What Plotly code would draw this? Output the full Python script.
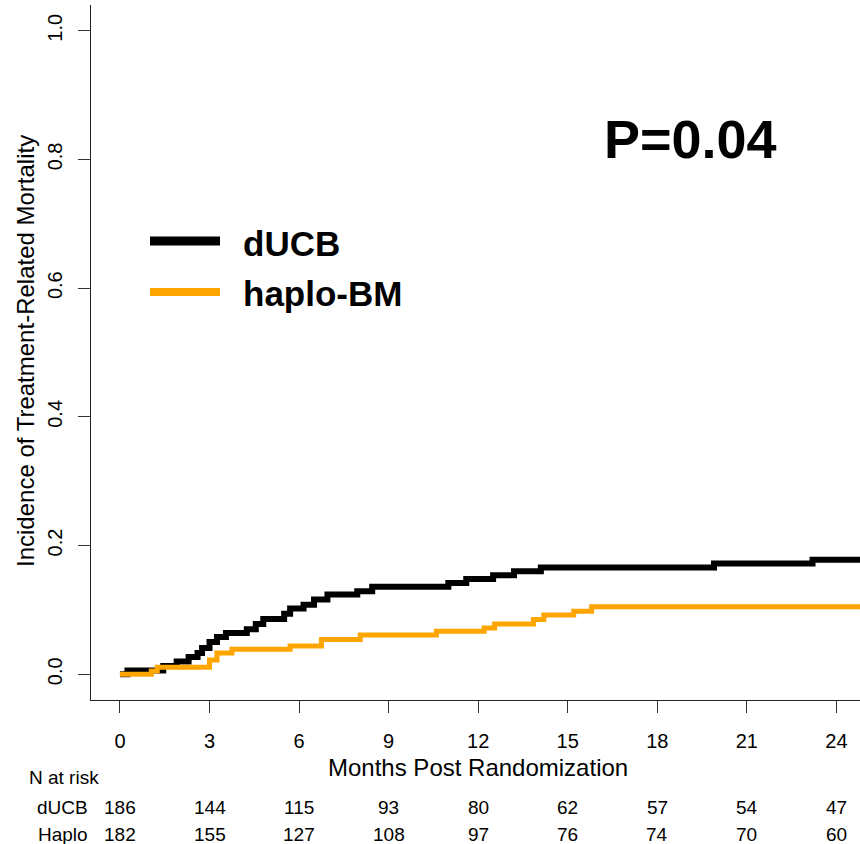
import plotly.graph_objects as go

# Cumulative incidence of treatment-related mortality (step functions)
ducb_months = [0, 0.25, 1.45, 1.9, 2.3, 2.6, 2.75, 3.0, 3.25, 3.55, 4.25, 4.55, 4.8,
               5.5, 5.7, 6.15, 6.5, 6.95, 7.95, 8.45, 11.0, 11.6, 12.5, 13.2, 14.1,
               19.9, 23.2, 25.0]
ducb_cif = [0, 0.006, 0.013, 0.020, 0.027, 0.033, 0.041, 0.050, 0.058, 0.064, 0.070,
            0.078, 0.086, 0.094, 0.102, 0.108, 0.116, 0.124, 0.129, 0.136, 0.142,
            0.148, 0.154, 0.160, 0.166, 0.172, 0.178, 0.178]

haplo_months = [0, 1.05, 1.25, 3.0, 3.25, 3.75, 5.7, 6.75, 8.05, 10.6, 12.2, 12.55,
                13.85, 14.2, 15.2, 15.8, 25.0]
haplo_cif = [0, 0.005, 0.011, 0.022, 0.033, 0.039, 0.044, 0.054, 0.061, 0.067, 0.072,
             0.078, 0.085, 0.092, 0.098, 0.105, 0.105]

tick_months = [0, 3, 6, 9, 12, 15, 18, 21, 24]
y_ticks = [0.0, 0.2, 0.4, 0.6, 0.8, 1.0]
ducb_at_risk = [186, 144, 115, 93, 80, 62, 57, 54, 47]
haplo_at_risk = [182, 155, 127, 108, 97, 76, 74, 70, 60]

FONT = "Liberation Sans, Arial, sans-serif"
W, H = 860, 844
ML, MR, MT, MB = 91, 0, 5, 144
PW, PH = W - ML - MR, H - MT - MB


def px(x):
    return (x - ML) / PW


def py(y):
    return (H - MB - y) / PH


fig = go.Figure()
fig.add_trace(go.Scatter(x=ducb_months, y=ducb_cif, mode="lines", line_shape="hv",
                         line=dict(color="black", width=6), showlegend=False))
fig.add_trace(go.Scatter(x=haplo_months, y=haplo_cif, mode="lines", line_shape="hv",
                         line=dict(color="#FFA500", width=5), showlegend=False))

ann = []
# axis titles
ann.append(dict(text="Months Post Randomization", xref="paper", yref="paper",
                x=px(478), y=py(767), xanchor="center", yanchor="middle",
                showarrow=False, font=dict(size=24, color="black", family=FONT)))
ann.append(dict(text="Incidence of Treatment-Related Mortality", xref="paper", yref="paper",
                x=px(25), y=py(351), xanchor="center", yanchor="middle", textangle=-90,
                showarrow=False, font=dict(size=24, color="black", family=FONT)))

# number-at-risk table
ann.append(dict(text="N at risk", xref="paper", yref="paper", x=px(27), y=py(777),
                xanchor="left", yanchor="middle", showarrow=False,
                font=dict(size=19, color="black", family=FONT)))
for label, row, ypix in [("dUCB", ducb_at_risk, 807), ("Haplo", haplo_at_risk, 834)]:
    ann.append(dict(text=label, xref="paper", yref="paper", x=px(90), y=py(ypix),
                    xanchor="right", yanchor="middle", showarrow=False,
                    font=dict(size=19, color="black", family=FONT)))
    for m, n in zip(tick_months, row):
        ann.append(dict(text=str(n), xref="x", yref="paper", x=m, y=py(ypix),
                        xanchor="center", yanchor="middle", showarrow=False,
                        font=dict(size=19, color="black", family=FONT)))

# p-value
ann.append(dict(text="<b>P=0.04</b>", xref="paper", yref="paper", x=px(690), y=py(139),
                xanchor="center", yanchor="middle", showarrow=False,
                font=dict(size=54, color="black", family=FONT)))

# legend
shapes = []
for name, color, lw, ypix in [("dUCB", "black", 9, 241), ("haplo-BM", "#FFA500", 8, 292)]:
    shapes.append(dict(type="line", xref="paper", yref="paper", x0=px(150), x1=px(220),
                       y0=py(ypix), y1=py(ypix), line=dict(color=color, width=lw)))
    ann.append(dict(text="<b>%s</b>" % name, xref="paper", yref="paper", x=px(241),
                    y=py(ypix + 2), xanchor="left", yanchor="middle", showarrow=False,
                    font=dict(size=35, color="black", family=FONT)))

fig.update_layout(
    width=W, height=H,
    margin=dict(l=ML, r=MR, t=MT, b=MB, pad=0),
    paper_bgcolor="white", plot_bgcolor="white",
    font=dict(family=FONT, color="black"),
    annotations=ann, shapes=shapes,
    xaxis=dict(range=[-0.97, 24.79], tickvals=tick_months, ticks="outside", ticklen=12,
               tickcolor="#333", tickwidth=1.2, showline=True, linecolor="#222",
               linewidth=1.2, showgrid=False, zeroline=False,
               tickfont=dict(size=20, family=FONT, color="black"),
               ticklabelstandoff=11),
    yaxis=dict(range=[-0.04, 1.04], tickvals=y_ticks, tickformat=".1f", ticks="outside",
               ticklen=12, tickcolor="#333", tickwidth=1.2, showline=True,
               linecolor="#222", linewidth=1.2, showgrid=False, zeroline=False,
               tickangle=-90, tickfont=dict(size=20, family=FONT, color="black"),
               ticklabelstandoff=8),
)

fig.write_html("out.html")
